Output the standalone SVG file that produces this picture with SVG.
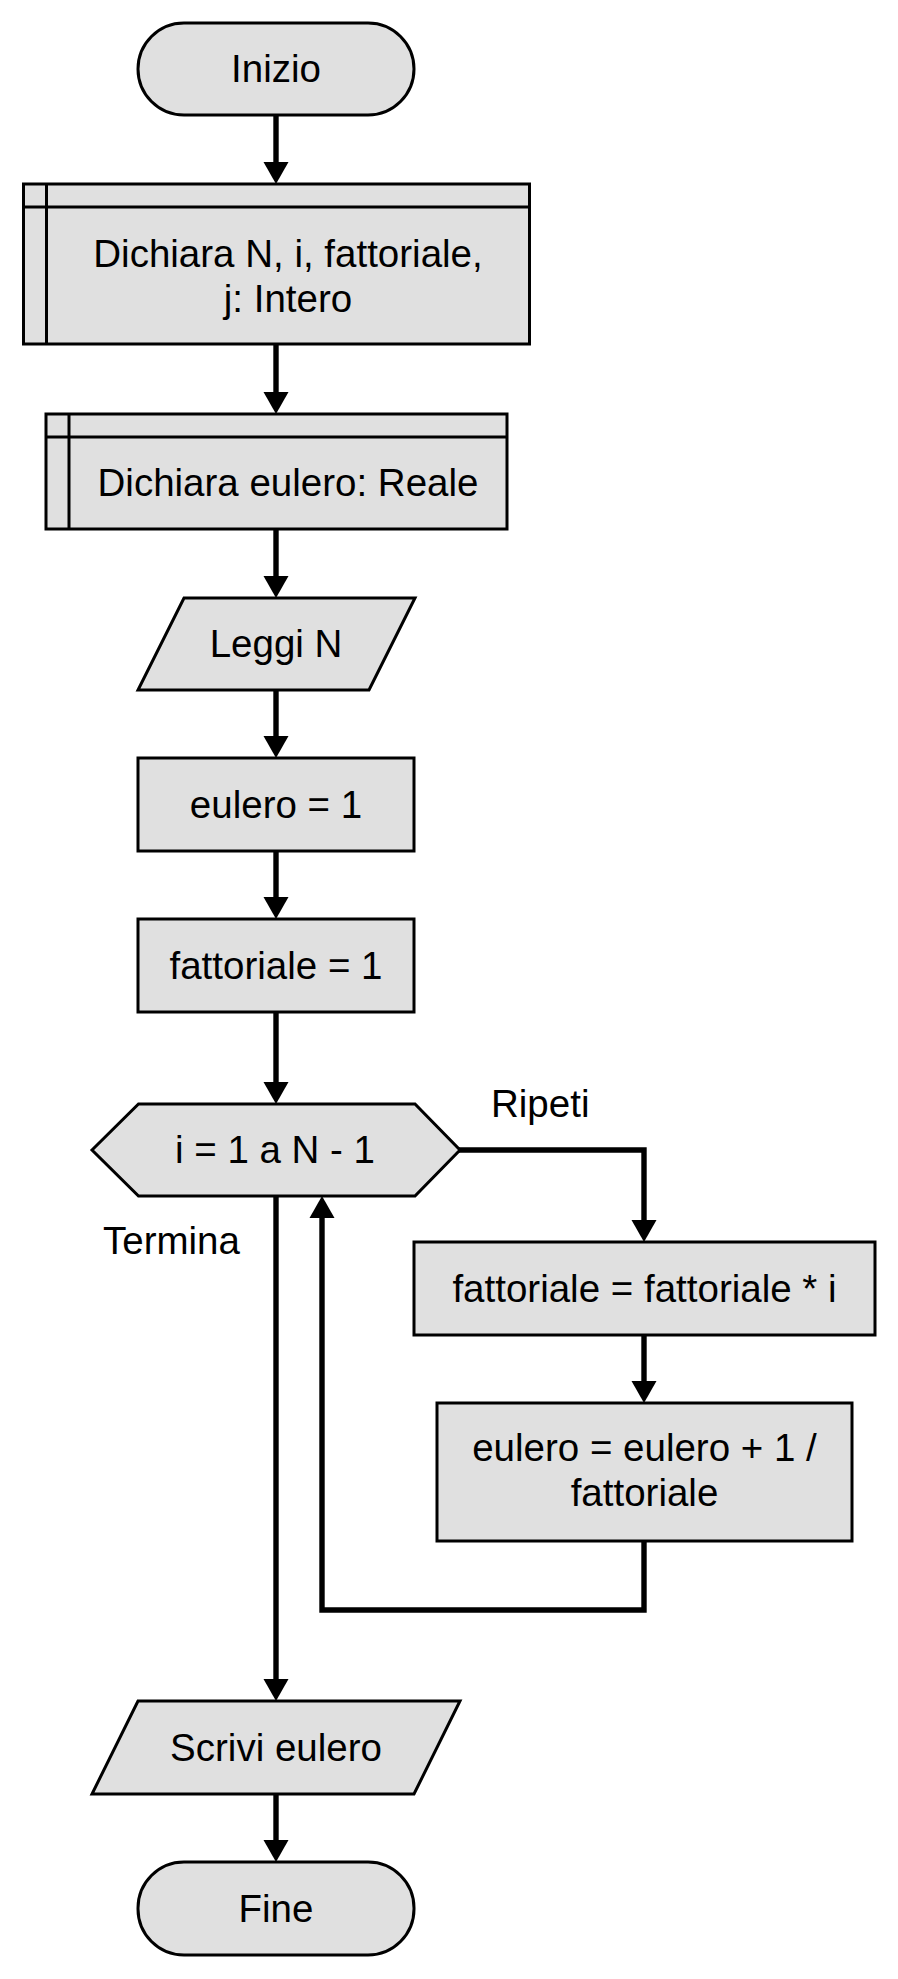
<svg xmlns="http://www.w3.org/2000/svg" width="898" height="1979" viewBox="0 0 898 1979">
<style>
.n{fill:#e0e0e0;stroke:#000;stroke-width:3}
.l{fill:none;stroke:#000;stroke-width:3}
.t{font-family:"Liberation Sans",Arial,sans-serif;font-size:38.5px;fill:#000;text-anchor:middle}
.s{text-anchor:start}
.c{fill:none;stroke:#000;stroke-width:5.4;stroke-linejoin:miter;marker-end:url(#ah)}
</style>
<defs>
<marker id="ah" markerUnits="userSpaceOnUse" markerWidth="23" markerHeight="26" refX="0" refY="12.5" orient="auto" overflow="visible">
<path d="M0,0 L22,12.5 L0,25 Z" fill="#000"/>
</marker>
</defs>
<rect width="898" height="1979" fill="#fff"/>
<g id="connectors">
<path class="c" d="M276,115 V162"/>
<path class="c" d="M276,344 V392"/>
<path class="c" d="M276,529 V576"/>
<path class="c" d="M276,690 V736"/>
<path class="c" d="M276,851 V897"/>
<path class="c" d="M276,1012 V1082"/>
<path class="c" d="M459,1150 H644 V1220"/>
<path class="c" d="M644,1335 V1381"/>
<path class="c" d="M644,1541 V1610 H322 V1218"/>
<path class="c" d="M276,1196 V1679"/>
<path class="c" d="M276,1794 V1840"/>
</g>
<g id="inizio">
<rect class="n" x="138" y="23" width="276" height="92" rx="46" ry="46"/>
<text class="t" x="276" y="82">Inizio</text>
</g>
<g id="dichiara1">
<rect class="n" x="23.5" y="184" width="506" height="160"/>
<line class="l" x1="23.5" y1="207" x2="529.5" y2="207"/>
<line class="l" x1="46.5" y1="184" x2="46.5" y2="344"/>
<text class="t" x="288" y="267">Dichiara N, i, fattoriale,</text>
<text class="t" x="288" y="312">j: Intero</text>
</g>
<g id="dichiara2">
<rect class="n" x="46" y="414" width="461" height="115"/>
<line class="l" x1="46" y1="437" x2="507" y2="437"/>
<line class="l" x1="69" y1="414" x2="69" y2="529"/>
<text class="t" x="288" y="496">Dichiara eulero: Reale</text>
</g>
<g id="leggi">
<polygon class="n" points="184,598 415,598 369,690 138,690"/>
<text class="t" x="276" y="657">Leggi N</text>
</g>
<g id="eulero1">
<rect class="n" x="138" y="758" width="276" height="93"/>
<text class="t" x="276" y="818">eulero = 1</text>
</g>
<g id="fattoriale1">
<rect class="n" x="138" y="919" width="276" height="93"/>
<text class="t" x="276" y="979">fattoriale = 1</text>
</g>
<g id="ciclo">
<polygon class="n" points="92,1150 138.5,1104 415,1104 460,1150 415,1196 138.5,1196"/>
<text class="t" x="275" y="1163">i = 1 a N - 1</text>
</g>
<g id="labels">
<text class="t s" x="491" y="1117">Ripeti</text>
<text class="t s" x="103" y="1254">Termina</text>
</g>
<g id="fattoriale2">
<rect class="n" x="414" y="1242" width="461" height="93"/>
<text class="t" x="644.5" y="1302">fattoriale = fattoriale * i</text>
</g>
<g id="eulero2">
<rect class="n" x="437" y="1403" width="415" height="138"/>
<text class="t" x="644.5" y="1461">eulero = eulero + 1 /</text>
<text class="t" x="644.5" y="1506">fattoriale</text>
</g>
<g id="scrivi">
<polygon class="n" points="138,1701 460,1701 414,1794 92,1794"/>
<text class="t" x="276" y="1761">Scrivi eulero</text>
</g>
<g id="fine">
<rect class="n" x="138" y="1862" width="276" height="93" rx="46" ry="46"/>
<text class="t" x="276" y="1922">Fine</text>
</g>
</svg>
